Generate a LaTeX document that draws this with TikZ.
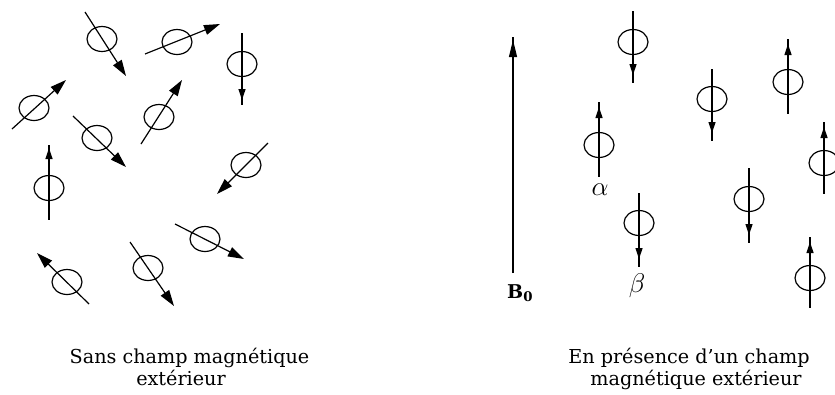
\RequirePackage{fix-cm}
\documentclass[tikz,border=0pt]{standalone}
\usepackage{fontspec}
\setmainfont{DejaVu Serif}
\usetikzlibrary{arrows.meta}
\begin{document}
\begin{tikzpicture}[x=1pt,y=-1pt,
  spin/.style={line width=1.2pt},
  dtip/.style={line width=1.2pt,-{Triangle[length=16pt,width=10pt]}},
  vtip/.style={line width=1.2pt,-{Triangle[length=11pt,width=7pt]}},
  ring/.style={line width=1.2pt},
  caption/.style={font=\fontsize{19.2}{23}\selectfont, anchor=base, inner sep=0pt},
  greek/.style={font=\fontsize{27}{27}\selectfont, inner sep=0pt}]
\useasboundingbox (0,0) rectangle (835,394);
\def\rx{15pt}\def\ry{12.5pt}
% ---------- left: random orientations ----------
\draw[dtip] (85,12) -- (126,76);   \draw[ring] (102,39) ellipse [x radius=\rx, y radius=\ry];
\draw[dtip] (145,54) -- (220,24);  \draw[ring] (177,42) ellipse [x radius=\rx, y radius=\ry];
\draw[dtip] (12,129) -- (66,80);   \draw[ring] (34,108) ellipse [x radius=\rx, y radius=\ry];
\draw[dtip] (73,116) -- (126,167); \draw[ring] (97,138) ellipse [x radius=\rx, y radius=\ry];
\draw[dtip] (141,144) -- (182,80); \draw[ring] (159,117) ellipse [x radius=\rx, y radius=\ry];
\draw[dtip] (268,143) -- (217,194);\draw[ring] (246,165) ellipse [x radius=\rx, y radius=\ry];
\draw[dtip] (175,224) -- (244,259);\draw[ring] (205,239) ellipse [x radius=\rx, y radius=\ry];
\draw[dtip] (89,304) -- (37,253);  \draw[ring] (67,282) ellipse [x radius=\rx, y radius=\ry];
\draw[dtip] (130,242) -- (174,306);\draw[ring] (148,268) ellipse [x radius=\rx, y radius=\ry];
% vertical ones on the left
\draw[spin] (242,33) -- (242,105); \draw[vtip] (242,64) -- (242,100);
\draw[ring] (242,64) ellipse [x radius=\rx, y radius=\ry];
\draw[spin] (49,145) -- (49,220); \draw[vtip] (49,188) -- (49,148);
\draw[ring] (49,188) ellipse [x radius=\rx, y radius=\ry];
% ---------- right: aligned with B0 ----------
\draw[spin] (513,273) -- (513,37);
\draw[line width=1.2pt,-{Triangle[length=17pt,width=8pt]}] (513,100) -- (513,40);
\node[anchor=base west, inner sep=0pt, font=\fontsize{19}{19}\selectfont] (b0) at (507,298) {$\mathbf{B}_{\mathbf{0}}$};
% down spins
\draw[spin] (633,11) -- (633,83); \draw[vtip] (633,42) -- (633,75);
\draw[ring] (633,42) ellipse [x radius=\rx, y radius=\ry];
\draw[spin] (712,69) -- (712,141); \draw[vtip] (712,99) -- (712,133);
\draw[ring] (712,99) ellipse [x radius=\rx, y radius=\ry];
\draw[spin] (749,168) -- (749,243); \draw[vtip] (749,199) -- (749,235);
\draw[ring] (749,199) ellipse [x radius=\rx, y radius=\ry];
\draw[spin] (639,193) -- (639,267); \draw[vtip] (639,223) -- (639,259);
\draw[ring] (639,223) ellipse [x radius=\rx, y radius=\ry];
% up spins
\draw[spin] (599,102) -- (599,177); \draw[vtip] (599,145) -- (599,107);
\draw[ring] (599,145) ellipse [x radius=\rx, y radius=\ry];
\draw[spin] (788,39) -- (788,114); \draw[vtip] (788,82) -- (788,44);
\draw[ring] (788,82) ellipse [x radius=\rx, y radius=\ry];
\draw[spin] (824,122) -- (824,194); \draw[vtip] (824,163) -- (824,127);
\draw[ring] (824,163) ellipse [x radius=\rx, y radius=\ry];
\draw[spin] (810,237) -- (810,308); \draw[vtip] (810,278) -- (810,242);
\draw[ring] (810,278) ellipse [x radius=\rx, y radius=\ry];
\node[greek] (alpha) at (600,190) {$\alpha$};
\node[greek] (beta) at (637,286) {$\beta$};
% ---------- captions ----------
\node[caption] (capL1) at (189.5,363) {Sans champ magnétique};
\node[caption] (capL2) at (181,385) {extérieur};
\node[caption] (capR1) at (689,363) {En présence d'un champ};
\node[caption] (capR2) at (696,385) {magnétique extérieur};
\end{tikzpicture}
\end{document}
